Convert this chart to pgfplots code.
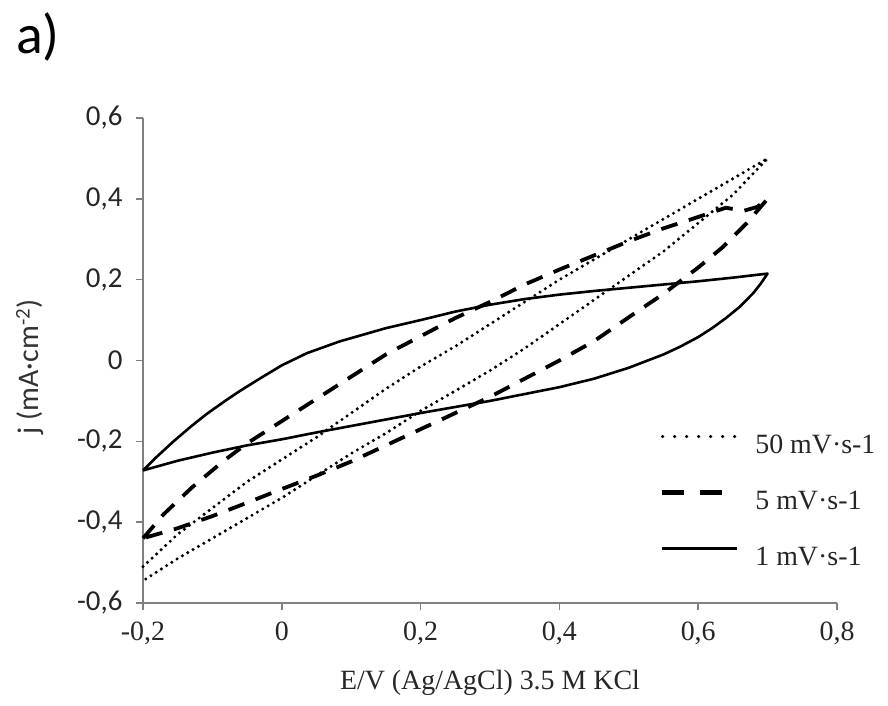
\documentclass[border=0pt]{standalone}
\usepackage{fontspec}
\setmainfont{Liberation Serif}
\newfontfamily\carlito{Carlito}
\usepackage{pgfplots}
\pgfplotsset{compat=1.18}
\definecolor{axisgray}{RGB}{128,128,128}

\begin{document}
\begin{tikzpicture}
\path[use as bounding box] (0,0) rectangle (888bp,706bp);
\node[anchor=base west, font=\carlito\fontsize{56}{64}\selectfont, inner sep=0pt] at (16bp,652bp) {a)};
\begin{axis}[
  at={(143bp,103bp)}, anchor=south west,
  scale only axis, width=694bp, height=485bp,
  xmin=-0.2, xmax=0.8, ymin=-0.6, ymax=0.6,
  axis lines=left,
  axis line style={-, draw=axisgray, line width=2bp},
  tick style={draw=axisgray, line width=1.5bp},
  tick align=outside, major tick length=7bp,
  xtick={-0.2,0,0.2,0.4,0.6,0.8},
  ytick={-0.6,-0.4,-0.2,0,0.2,0.4,0.6},
  /pgf/number format/.cd, use comma, fixed, precision=1, assume math mode=true,
  /pgfplots/.cd,
  xticklabel style={font=\fontsize{28}{30}\selectfont, text=black!85, yshift=-8bp},
  yticklabel style={font=\carlito\fontsize{29}{32}\selectfont, text=black!85, xshift=-10bp},
  xlabel={E/V (Ag/AgCl) 3.5 M KCl},
  xlabel style={font=\fontsize{28}{30}\selectfont, text=black!85, at={(axis description cs:0.5,0)}, anchor=base, yshift=-86bp},
  ylabel={j (mA·cm\textsuperscript{-2})},
  ylabel style={font=\carlito\fontsize{30}{32}\selectfont, text=black!80, at={(axis description cs:-0.163,0.487)}, anchor=center},
  legend style={draw=none, fill=none, inner sep=0pt,
    at={(axis cs:0.544,-0.344)}, anchor=west,
    font=\fontsize{28}{30}\selectfont, text=black!85, row sep=37bp,
    nodes={inner sep=0pt, text height=19bp, text depth=0bp}},
  legend image code/.code={\draw[#1] (0bp,7bp) -- (75bp,7bp);},
  legend cell align=left,
  clip=false,
]
% 50 mV/s
\addplot[black, line width=3.4bp, line cap=round, dash pattern=on 0bp off 6.2bp,
  legend image code/.code={\draw[black, line width=3.4bp, line cap=round, dash pattern=on 0bp off 12bp] (1bp,7bp) -- (75bp,7bp);}]
coordinates {
(-0.2,-0.51) (-0.15,-0.43) (-0.1,-0.365) (-0.05,-0.30) (0,-0.245) (0.05,-0.19)
(0.1,-0.13) (0.15,-0.07) (0.2,-0.015) (0.25,0.035) (0.3,0.09) (0.35,0.145)
(0.4,0.2) (0.45,0.25) (0.5,0.3) (0.55,0.35) (0.6,0.40) (0.65,0.45) (0.7,0.5)
(0.65,0.41) (0.6,0.34) (0.55,0.27) (0.5,0.21) (0.45,0.15) (0.4,0.09)
(0.35,0.03) (0.3,-0.025) (0.25,-0.075) (0.2,-0.125) (0.15,-0.18) (0.1,-0.23)
(0.05,-0.285) (0,-0.34) (-0.05,-0.39) (-0.1,-0.44) (-0.15,-0.49) (-0.2,-0.545)
};
\addlegendentry{\hspace{17bp}50 mV·s-1}
% 5 mV/s
\addplot[black, line width=3.8bp, dash pattern=on 17bp off 12bp,
  legend image code/.code={\draw[black, line width=4.2bp, dash pattern=on 22bp off 16bp] (0bp,7bp) -- (62bp,7bp);}]
coordinates {
(-0.2,-0.44) (-0.17,-0.38) (-0.13,-0.315) (-0.085,-0.25) (-0.05,-0.205) (0,-0.15)
(0.05,-0.095) (0.1,-0.04) (0.15,0.015) (0.2,0.06) (0.25,0.105) (0.3,0.145)
(0.35,0.188) (0.4,0.225) (0.45,0.26) (0.5,0.295) (0.55,0.327) (0.6,0.355)
(0.64,0.378) (0.665,0.37) (0.685,0.38) (0.7,0.40)
(0.67,0.34) (0.635,0.28) (0.6,0.23) (0.55,0.165) (0.5,0.107) (0.45,0.048)
(0.4,0.0) (0.35,-0.045) (0.3,-0.09) (0.25,-0.13) (0.2,-0.17) (0.15,-0.21)
(0.1,-0.25) (0.05,-0.285) (0,-0.318) (-0.05,-0.352) (-0.1,-0.385) (-0.15,-0.415)
(-0.19,-0.435) (-0.2,-0.44)
};
\addlegendentry{\hspace{17bp}5 mV·s-1}
% 1 mV/s
\addplot[black, line width=2.6bp, line join=round]
coordinates {
(-0.2,-0.272) (-0.18,-0.238) (-0.156,-0.2) (-0.13,-0.162) (-0.108,-0.132)
(-0.08,-0.098) (-0.06,-0.075) (-0.03,-0.043) (0,-0.012) (0.036,0.018)
(0.083,0.047) (0.15,0.08) (0.2,0.10) (0.25,0.121) (0.3,0.138) (0.35,0.152)
(0.4,0.163) (0.45,0.172) (0.5,0.18) (0.55,0.188) (0.6,0.196) (0.65,0.205)
(0.7,0.215)
(0.69,0.19) (0.68,0.168) (0.66,0.133) (0.64,0.105) (0.62,0.08) (0.6,0.058)
(0.575,0.035) (0.55,0.015) (0.5,-0.018) (0.45,-0.045) (0.4,-0.066) (0.35,-0.083)
(0.3,-0.1) (0.25,-0.115) (0.2,-0.13) (0.15,-0.146) (0.1,-0.162) (0.05,-0.178)
(0,-0.195) (-0.05,-0.21) (-0.1,-0.228) (-0.15,-0.248) (-0.2,-0.272)
};
\addlegendentry{\hspace{17bp}1 mV·s-1}
\end{axis}
\end{tikzpicture}
\end{document}
